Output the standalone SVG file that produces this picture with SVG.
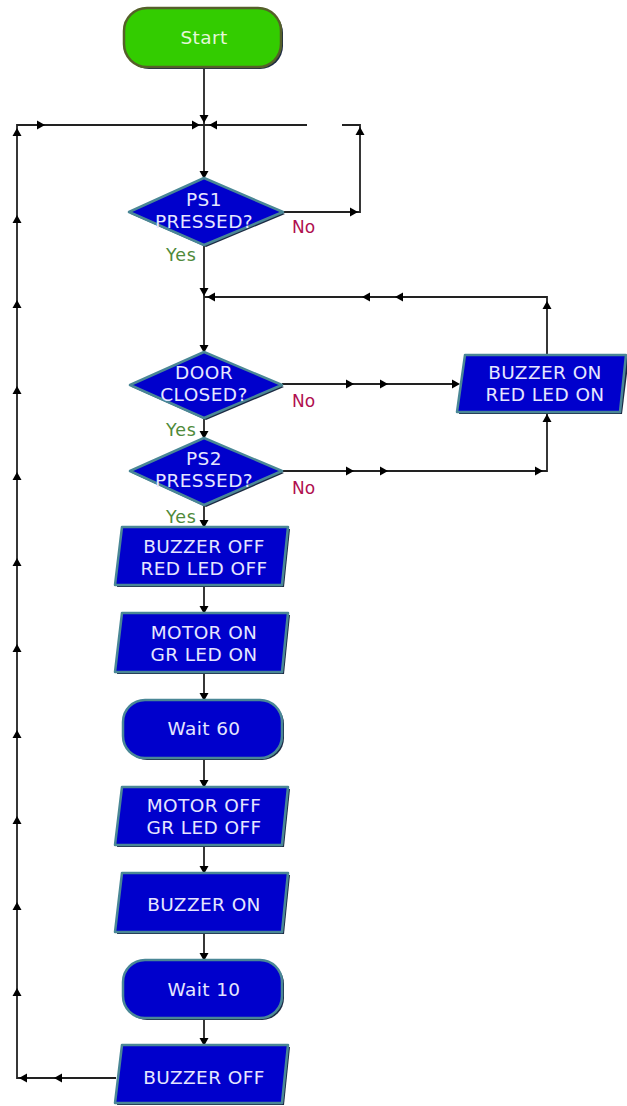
<svg xmlns="http://www.w3.org/2000/svg" xmlns:xlink="http://www.w3.org/1999/xlink" width="627" height="1106" viewBox="0 0 627 1106">
<style>
.bg{fill:#ffffff}
.blk{fill:#0000cc;stroke:#4a8796;stroke-width:2.5;stroke-linejoin:round}
.sh{fill:#1c2a44}
.start{fill:#33cc00;stroke:#55602a;stroke-width:2.5}
.t{font-family:"DejaVu Sans","Liberation Sans",sans-serif;font-size:18.5px;letter-spacing:0.4px;fill:#e6e6ff;text-anchor:middle}
.ts{fill:#e4f8d8}
.no{font-family:"DejaVu Sans","Liberation Sans",sans-serif;font-size:17px;fill:#b01050}
.yes{font-family:"DejaVu Sans","Liberation Sans",sans-serif;font-size:17.5px;letter-spacing:0.8px;fill:#4f8a3a}
.ln{fill:none;stroke:#222222;stroke-width:1.8}
.ah{fill:#000000}
</style>
<defs>
<path id="ar" d="M0,0 L-8,-4.5 L-8,4.5 Z"/>
</defs>
<rect class="bg" x="0" y="0" width="627" height="1106"/>

<g id="connectors">
<path class="ln" d="M204,67 V297 V352"/>
<path class="ln" d="M116,1078 H17 V125 H307"/>
<path class="ln" d="M283,212 H360 V125 H342"/>
<path class="ln" d="M547,355 V297 H204"/>
<path class="ln" d="M282,384 H458"/>
<path class="ln" d="M204,418 V438"/>
<path class="ln" d="M282,471 H547 V412"/>
<path class="ln" d="M204,505 V527"/>
<path class="ln" d="M204,585 V613 M204,672 V700 M204,758 V787 M204,845 V873 M204,932 V960 M204,1018 V1045"/>
<g class="ah">
<use xlink:href="#ar" transform="translate(204,123) rotate(90)"/>
<use xlink:href="#ar" transform="translate(200,125)"/>
<use xlink:href="#ar" transform="translate(209,125) rotate(180)"/>
<use xlink:href="#ar" transform="translate(45,125)"/>
<use xlink:href="#ar" transform="translate(204,179) rotate(90)"/>
<use xlink:href="#ar" transform="translate(358,212)"/>
<use xlink:href="#ar" transform="translate(360,127) rotate(-90)"/>
<use xlink:href="#ar" transform="translate(204,296) rotate(90)"/>
<use xlink:href="#ar" transform="translate(207,297) rotate(180)"/>
<use xlink:href="#ar" transform="translate(362,297) rotate(180)"/>
<use xlink:href="#ar" transform="translate(395,297) rotate(180)"/>
<use xlink:href="#ar" transform="translate(547,301) rotate(-90)"/>
<use xlink:href="#ar" transform="translate(204,353) rotate(90)"/>
<use xlink:href="#ar" transform="translate(354,384)"/>
<use xlink:href="#ar" transform="translate(388,384)"/>
<use xlink:href="#ar" transform="translate(460,384)"/>
<use xlink:href="#ar" transform="translate(204,439) rotate(90)"/>
<use xlink:href="#ar" transform="translate(354,471)"/>
<use xlink:href="#ar" transform="translate(388,471)"/>
<use xlink:href="#ar" transform="translate(543,471)"/>
<use xlink:href="#ar" transform="translate(547,414) rotate(-90)"/>
<use xlink:href="#ar" transform="translate(204,528) rotate(90)"/>
<use xlink:href="#ar" transform="translate(204,614) rotate(90)"/>
<use xlink:href="#ar" transform="translate(204,701) rotate(90)"/>
<use xlink:href="#ar" transform="translate(204,788) rotate(90)"/>
<use xlink:href="#ar" transform="translate(204,874) rotate(90)"/>
<use xlink:href="#ar" transform="translate(204,961) rotate(90)"/>
<use xlink:href="#ar" transform="translate(204,1046) rotate(90)"/>
<use xlink:href="#ar" transform="translate(54,1078) rotate(180)"/>
<use xlink:href="#ar" transform="translate(19,1078) rotate(180)"/>
<use xlink:href="#ar" transform="translate(17,988) rotate(-90)"/>
<use xlink:href="#ar" transform="translate(17,902) rotate(-90)"/>
<use xlink:href="#ar" transform="translate(17,816) rotate(-90)"/>
<use xlink:href="#ar" transform="translate(17,730) rotate(-90)"/>
<use xlink:href="#ar" transform="translate(17,644) rotate(-90)"/>
<use xlink:href="#ar" transform="translate(17,558) rotate(-90)"/>
<use xlink:href="#ar" transform="translate(17,472) rotate(-90)"/>
<use xlink:href="#ar" transform="translate(17,386) rotate(-90)"/>
<use xlink:href="#ar" transform="translate(17,300) rotate(-90)"/>
<use xlink:href="#ar" transform="translate(17,215) rotate(-90)"/>
<use xlink:href="#ar" transform="translate(17,128) rotate(-90)"/>
</g>
</g>

<g id="start">
<rect x="126" y="10" width="157" height="59" rx="23" class="sh"/>
<rect x="124" y="8" width="157" height="59" rx="23" class="start"/>
<text x="204" y="44" class="t ts">Start</text>
</g>

<g id="ps1">
<path d="M206,180 L285,214 L206,247 L131,214 Z" class="sh"/>
<path d="M204,178 L283,212 L204,245 L129,212 Z" class="blk"/>
<text x="204" y="206" class="t">PS1</text>
<text x="204" y="228" class="t">PRESSED?</text>
<text x="292" y="233" class="no">No</text>
<text x="166" y="261" class="yes">Yes</text>
</g>

<g id="door">
<path d="M206,354 L284,387 L206,420 L132,387 Z" class="sh"/>
<path d="M204,352 L282,385 L204,418 L130,385 Z" class="blk"/>
<text x="204" y="379" class="t">DOOR</text>
<text x="204" y="401" class="t">CLOSED?</text>
<text x="292" y="407" class="no">No</text>
<text x="166" y="436" class="yes">Yes</text>
</g>

<g id="buzzer-red-on">
<path d="M467,357 H629 L622,414 H459 Z" class="sh"/>
<path d="M465,355 H626 L620,412 H457 Z" class="blk"/>
<text x="545" y="379" class="t">BUZZER ON</text>
<text x="545" y="401" class="t">RED LED ON</text>
</g>

<g id="ps2">
<path d="M206,440 L284,473 L206,507 L132,473 Z" class="sh"/>
<path d="M204,438 L282,471 L204,505 L130,471 Z" class="blk"/>
<text x="204" y="465" class="t">PS2</text>
<text x="204" y="487" class="t">PRESSED?</text>
<text x="292" y="494" class="no">No</text>
<text x="166" y="523" class="yes">Yes</text>
</g>

<g id="buzzer-red-off">
<path d="M124,529 H290 L284,587 H117 Z" class="sh"/>
<path d="M122,527 H288 L282,585 H115 Z" class="blk"/>
<text x="204" y="553" class="t">BUZZER OFF</text>
<text x="204" y="575" class="t">RED LED OFF</text>
</g>

<g id="motor-on">
<path d="M124,615 H290 L284,674 H117 Z" class="sh"/>
<path d="M122,613 H288 L282,672 H115 Z" class="blk"/>
<text x="204" y="639" class="t">MOTOR ON</text>
<text x="204" y="661" class="t">GR LED ON</text>
</g>

<g id="wait60">
<rect x="125" y="702" width="159" height="58" rx="22" class="sh"/>
<rect x="123" y="700" width="159" height="58" rx="22" class="blk"/>
<text x="204" y="735" class="t">Wait 60</text>
</g>

<g id="motor-off">
<path d="M124,789 H290 L284,847 H117 Z" class="sh"/>
<path d="M122,787 H288 L282,845 H115 Z" class="blk"/>
<text x="204" y="812" class="t">MOTOR OFF</text>
<text x="204" y="834" class="t">GR LED OFF</text>
</g>

<g id="buzzer-on">
<path d="M124,875 H290 L284,934 H117 Z" class="sh"/>
<path d="M122,873 H288 L282,932 H115 Z" class="blk"/>
<text x="204" y="911" class="t">BUZZER ON</text>
</g>

<g id="wait10">
<rect x="125" y="962" width="159" height="58" rx="22" class="sh"/>
<rect x="123" y="960" width="159" height="58" rx="22" class="blk"/>
<text x="204" y="996" class="t">Wait 10</text>
</g>

<g id="buzzer-off">
<path d="M124,1047 H290 L284,1105 H117 Z" class="sh"/>
<path d="M122,1045 H288 L282,1103 H115 Z" class="blk"/>
<text x="204" y="1084" class="t">BUZZER OFF</text>
</g>
</svg>
